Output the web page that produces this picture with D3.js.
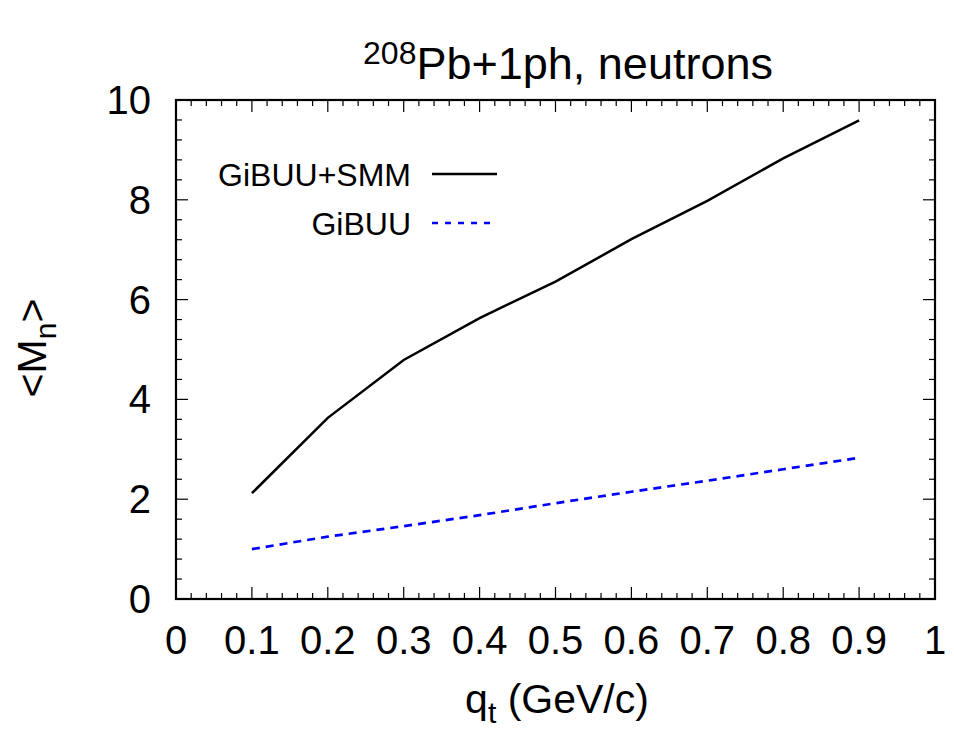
<!DOCTYPE html>
<html>
<head>
<meta charset="utf-8">
<script src="https://cdn.jsdelivr.net/npm/d3@7"></script>
<style>
  body { margin: 0; background: #fff; }
  svg text { font-family: "Liberation Sans", Arial, sans-serif; fill: #000; }
</style>
</head>
<body>
<svg id="chart" width="954" height="731"></svg>
<script>
// data
const qt = [0.1, 0.2, 0.3, 0.4, 0.5, 0.6, 0.7, 0.8, 0.9];
const gibuuSmm = [2.12, 3.63, 4.79, 5.63, 6.36, 7.21, 7.98, 8.83, 9.59];
const gibuu = [1.0, 1.25, 1.46, 1.68, 1.92, 2.15, 2.37, 2.60, 2.83];
const xTicks = [0, 0.1, 0.2, 0.3, 0.4, 0.5, 0.6, 0.7, 0.8, 0.9, 1];
const yTicks = [0, 2, 4, 6, 8, 10];

const svg = d3.select('#chart');
const margin = { top: 100, right: 19, bottom: 132, left: 176 };
const width = 954 - margin.left - margin.right;
const height = 731 - margin.top - margin.bottom;

const g = svg.append('g').attr('transform', `translate(${margin.left},${margin.top})`);

const x = d3.scaleLinear().domain([0, 1]).range([0, width]);
const y = d3.scaleLinear().domain([0, 10]).range([height, 0]);

// minor + major ticks, mirrored on all sides
const xMinor = d3.range(0, 1.0001, 0.02);
const yMinor = d3.range(0, 10.0001, 0.4);
const tickG = g.append('g').attr('stroke', '#000').attr('stroke-width', 1.2);
xMinor.forEach(v => {
  const major = xTicks.some(t => Math.abs(t - v) < 1e-6);
  const len = major ? 12 : 6;
  tickG.append('line').attr('x1', x(v)).attr('x2', x(v)).attr('y1', height).attr('y2', height - len);
  tickG.append('line').attr('x1', x(v)).attr('x2', x(v)).attr('y1', 0).attr('y2', len);
});
yMinor.forEach(v => {
  const major = yTicks.some(t => Math.abs(t - v) < 1e-6);
  const len = major ? 12 : 6;
  tickG.append('line').attr('y1', y(v)).attr('y2', y(v)).attr('x1', 0).attr('x2', len);
  tickG.append('line').attr('y1', y(v)).attr('y2', y(v)).attr('x1', width).attr('x2', width - len);
});

// tick labels
g.append('g').selectAll('text').data(xTicks).enter().append('text')
  .attr('x', d => x(d)).attr('y', height + 55)
  .attr('text-anchor', 'middle').style('font-size', '40px')
  .text(d => d);
g.append('g').selectAll('text').data(yTicks).enter().append('text')
  .attr('x', -25).attr('y', d => y(d) + 14)
  .attr('text-anchor', 'end').style('font-size', '40px')
  .text(d => d);

// curves
const line = d3.line().x((d, i) => x(qt[i])).y(d => y(d));
g.append('path').datum(gibuuSmm).attr('d', line)
  .attr('fill', 'none').attr('stroke', '#000').attr('stroke-width', 2.5);
g.append('path').datum(gibuu).attr('d', line)
  .attr('fill', 'none').attr('stroke', '#0000ff').attr('stroke-width', 2.7)
  .attr('stroke-dasharray', '8,6');

// frame
g.append('rect').attr('width', width).attr('height', height)
  .attr('fill', 'none').attr('stroke', '#000').attr('stroke-width', 2.2);

// legend
const legend = [
  { label: 'GiBUU+SMM', color: '#000', dash: null, y: 174 },
  { label: 'GiBUU', color: '#0000ff', dash: '6,7', y: 223 }
];
legend.forEach(d => {
  svg.append('text').attr('x', 411).attr('y', d.y + 12)
    .attr('text-anchor', 'end').style('font-size', '32px').text(d.label);
  svg.append('line').attr('x1', 432).attr('x2', 497).attr('y1', d.y).attr('y2', d.y)
    .attr('stroke', d.color).attr('stroke-width', 2.5)
    .attr('stroke-dasharray', d.dash);
});

// title
const title = svg.append('text').attr('x', 568).attr('y', 79)
  .attr('text-anchor', 'middle').style('font-size', '45px');
title.append('tspan').attr('dy', -15).style('font-size', '32px').text('208');
title.append('tspan').attr('dy', 15).text('Pb+1ph, neutrons');

// x label
const xl = svg.append('text').attr('x', 557).attr('y', 713)
  .attr('text-anchor', 'middle').style('font-size', '41px');
xl.append('tspan').text('q');
xl.append('tspan').attr('dy', 10).style('font-size', '30px').text('t');
xl.append('tspan').attr('dy', -10).text(' (GeV/c)');

// y label
const yl = svg.append('text').attr('transform', 'translate(46,348) rotate(-90)')
  .attr('text-anchor', 'middle').style('font-size', '41px');
yl.append('tspan').text('<M');
yl.append('tspan').attr('dy', 10).style('font-size', '30px').text('n');
yl.append('tspan').attr('dy', -10).text('>');
</script>
</body>
</html>
